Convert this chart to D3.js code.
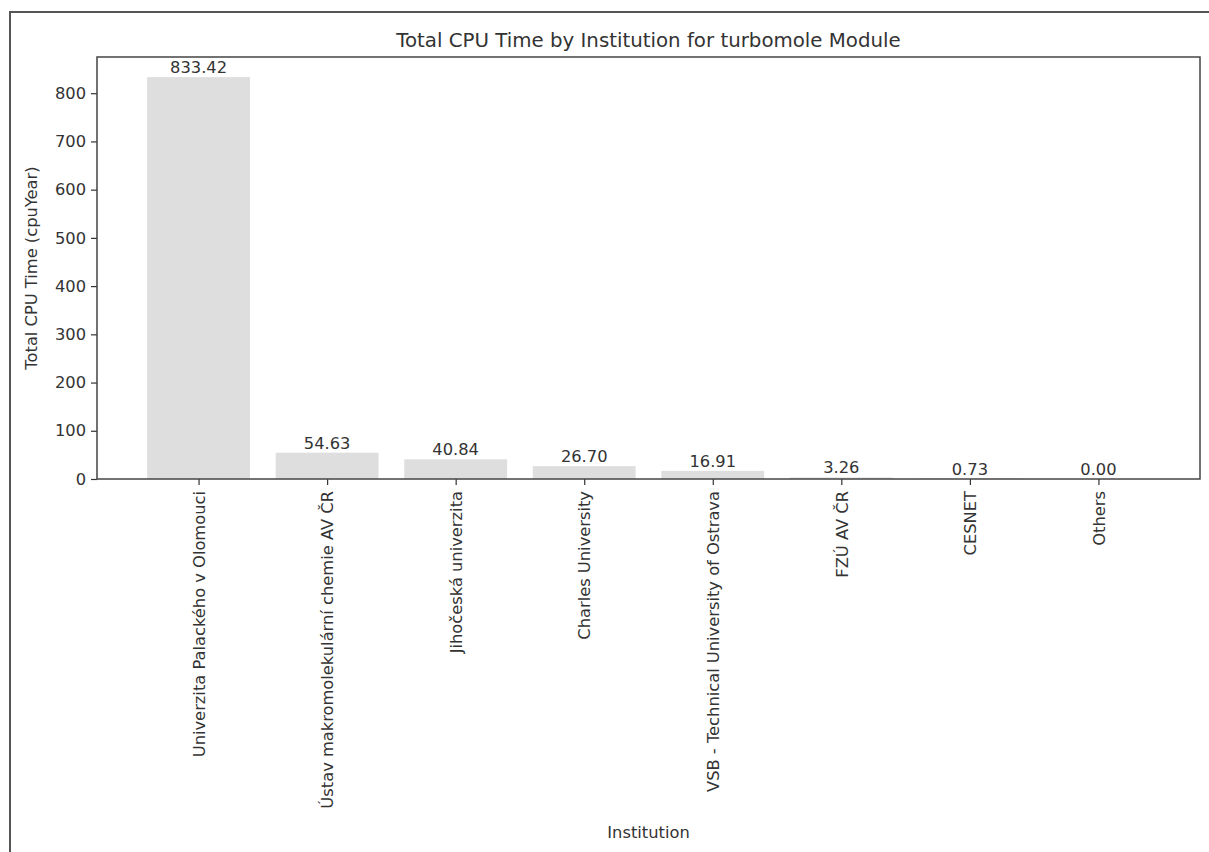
<!DOCTYPE html>
<html>
<head>
<meta charset="utf-8">
<script src="https://cdn.jsdelivr.net/npm/d3@7"></script>
<style>
  html, body { margin: 0; padding: 0; background: #fff; }
  svg { display: block; }
  text { font-family: "DejaVu Sans", sans-serif; fill: #333; }
</style>
</head>
<body>
<svg id="chart" width="1209" height="852"></svg>
<script>
const categories = [
  "Univerzita Palackého v Olomouci",
  "Ústav makromolekulární chemie AV ČR",
  "Jihočeská univerzita",
  "Charles University",
  "VSB - Technical University of Ostrava",
  "FZÚ AV ČR",
  "CESNET",
  "Others"
];
const values = [833.42, 54.63, 40.84, 26.70, 16.91, 3.26, 0.73, 0.00];
const yTicks = [0, 100, 200, 300, 400, 500, 600, 700, 800];
const titleText = "Total CPU Time by Institution for turbomole Module";
const xLabelText = "Institution";
const yLabelText = "Total CPU Time (cpuYear)";

const svg = d3.select("#chart");
const W = 1209, H = 852;
const plot = { left: 97, right: 1200, top: 57, bottom: 479 };
const FS = 16.3, TFS = 19.8;

// outer frame
svg.append("rect")
  .attr("x", 10).attr("y", 12)
  .attr("width", W + 20).attr("height", H + 20)
  .attr("fill", "none").attr("stroke", "#555").attr("stroke-width", 2);

const n = categories.length;
const barW = 0.8;
const xMin = -barW / 2, xMax = n - 1 + barW / 2;
const xPad = (xMax - xMin) * 0.05;
const x = d3.scaleLinear().domain([xMin - xPad, xMax + xPad]).range([plot.left, plot.right]);
const yMaxV = d3.max(values) * 1.05;
const y = d3.scaleLinear().domain([0, yMaxV]).range([plot.bottom, plot.top]);

const g = svg.append("g");

// bars
g.selectAll("rect.bar").data(values).enter().append("rect")
  .attr("class", "bar")
  .attr("x", (d, i) => x(i - barW / 2))
  .attr("width", (d, i) => x(i + barW / 2) - x(i - barW / 2))
  .attr("y", d => y(d))
  .attr("height", d => y(0) - y(d))
  .attr("fill", "#dedede");

// value labels
g.selectAll("text.val").data(values).enter().append("text")
  .attr("class", "val")
  .attr("x", (d, i) => x(i))
  .attr("y", d => y(d) - 4)
  .attr("text-anchor", "middle")
  .attr("font-size", FS)
  .text(d => d.toFixed(2));

// y axis
const yAxis = d3.axisLeft(y).tickValues(yTicks).tickSize(6).tickPadding(5).tickFormat(d3.format("d"));
const yG = svg.append("g").attr("transform", `translate(${plot.left},0)`).call(yAxis);
yG.select(".domain").remove();
yG.selectAll("line").attr("stroke", "#333").attr("stroke-width", 1.2);
yG.selectAll("text").attr("font-size", FS).attr("fill", "#333").style("font-family", "DejaVu Sans, sans-serif");

// x axis
const xAxis = d3.axisBottom(x).tickValues(d3.range(n)).tickSize(6).tickPadding(5).tickFormat(i => categories[i]);
const xG = svg.append("g").attr("transform", `translate(0,${plot.bottom})`).call(xAxis);
xG.select(".domain").remove();
xG.selectAll("line").attr("stroke", "#333").attr("stroke-width", 1.2);
xG.selectAll("text")
  .attr("font-size", FS).attr("fill", "#333").style("font-family", "DejaVu Sans, sans-serif")
  .attr("transform", "rotate(-90)")
  .attr("text-anchor", "end")
  .attr("x", -12).attr("y", 0).attr("dy", "0.35em");

// spines
svg.append("rect")
  .attr("x", plot.left).attr("y", plot.top)
  .attr("width", plot.right - plot.left).attr("height", plot.bottom - plot.top)
  .attr("fill", "none").attr("stroke", "#444").attr("stroke-width", 1.5);

// title
svg.append("text")
  .attr("x", (plot.left + plot.right) / 2).attr("y", 47)
  .attr("text-anchor", "middle").attr("font-size", TFS)
  .text(titleText);

// x label
svg.append("text")
  .attr("x", (plot.left + plot.right) / 2).attr("y", 838)
  .attr("text-anchor", "middle").attr("font-size", FS)
  .text(xLabelText);

// y label
svg.append("text")
  .attr("transform", `translate(37,${(plot.top + plot.bottom) / 2}) rotate(-90)`)
  .attr("text-anchor", "middle").attr("font-size", FS)
  .text(yLabelText);
</script>
</body>
</html>
